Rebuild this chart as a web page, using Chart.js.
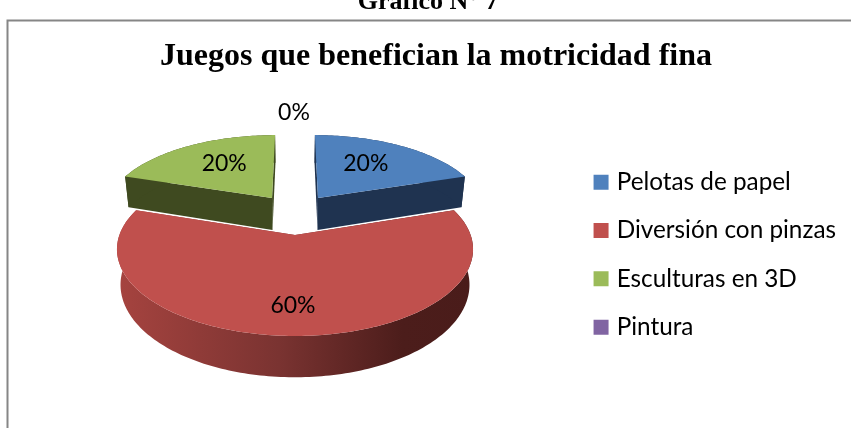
<!DOCTYPE html>
<html><head><meta charset="utf-8">
<style>html,body{margin:0;padding:0;background:#fff;overflow:hidden}#w{width:851px;height:428px;position:relative}</style>
<script src="https://cdn.jsdelivr.net/npm/chart.js@4"></script>
</head><body><div id="w"><canvas id="c" width="851" height="428"></canvas></div>
<script>
const heading = 'Gráfico N° 7';
const chartTitle = 'Juegos que benefician la motricidad fina';
const categories = ['Pelotas de papel', 'Diversión con pinzas', 'Esculturas en 3D', 'Pintura'];
const values = [20, 60, 20, 0];
const topColors = ['#4F81BD', '#C0504D', '#9BBB59', '#8064A2'];
const sideColors = ['#1F3350', null, '#3F4A20', '#3F2F55'];
const exploded = [[0.141, 0.473], [0, 0], [-0.141, 0.473], [0, 0]];
const labelRadius = [0.55, 0.72, 0.55, 1.92];
const labelNudge = [[0, -4], [-2, 2], [0, -4], [-1, 0]];

const CX = 295, CY = 235, A = 175.6, B = 84.3, K = 0.165, H = 34.5, BOTTOM_X = 0.98;
function project(X, Z) {
  const w = 1 + K * Z;
  return { x: CX + A * X / w, y: CY - B * Z / w, w };
}
function base(p) {
  return { x: CX + (p.x - CX) * BOTTOM_X, y: p.y + H / p.w };
}
const pie3d = {
  id: 'pie3d',
  beforeDraw(chart) {
    const c = chart.ctx;
    c.save();
    c.strokeStyle = '#868686';
    c.lineWidth = 2;
    c.beginPath();
    c.moveTo(7.5, 428); c.lineTo(7.5, 20.5); c.lineTo(851, 20.5);
    c.stroke();
    c.fillStyle = '#000';
    c.font = 'bold 26px "Liberation Serif"';
    c.textAlign = 'center';
    c.textBaseline = 'alphabetic';
    c.fillText(heading, 428, 9);
    c.restore();
  },
  beforeDatasetDraw(chart) {
    const c = chart.ctx, arcs = chart.getDatasetMeta(0).data;
    const redSide = c.createLinearGradient(120, 0, 473, 0);
    redSide.addColorStop(0, '#A5433F');
    redSide.addColorStop(0.45, '#7A3331');
    redSide.addColorStop(0.8, '#4C1D1B');
    redSide.addColorStop(1, '#4A1C1A');
    const order = [0, 2, 1];
    c.save();
    for (const i of order) {
      const a = arcs[i], s = a.startAngle + Math.PI / 2, e = a.endAngle + Math.PI / 2;
      if (e - s <= 0) continue;
      const [dx, dz] = exploded[i];
      const apex = project(dx, dz), rim = [];
      const n = Math.ceil((e - s) / 0.02);
      for (let k = 0; k <= n; k++) {
        const t = s + (e - s) * k / n;
        rim.push(project(dx + Math.sin(t), dz + Math.cos(t)));
      }
      const walls = [[apex, rim[0]], [apex, rim[rim.length - 1]], rim];
      c.fillStyle = sideColors[i] || redSide;
      for (const w of walls) {
        c.beginPath();
        w.forEach((p, k) => k ? c.lineTo(p.x, p.y) : c.moveTo(p.x, p.y));
        for (let k = w.length - 1; k >= 0; k--) { const b = base(w[k]); c.lineTo(b.x, b.y); }
        c.closePath(); c.fill();
      }
      c.fillStyle = topColors[i];
      c.beginPath();
      c.moveTo(apex.x, apex.y);
      rim.forEach(p => c.lineTo(p.x, p.y));
      c.closePath(); c.fill();
    }
    c.restore();
    return false;
  },
  afterDatasetsDraw(chart) {
    const c = chart.ctx, arcs = chart.getDatasetMeta(0).data;
    const total = values.reduce((a, b) => a + b, 0);
    c.save();
    c.fillStyle = '#000';
    c.font = '23px Lato';
    c.textAlign = 'center';
    c.textBaseline = 'middle';
    arcs.forEach((a, i) => {
      const m = (a.startAngle + a.endAngle) / 2 + Math.PI / 2;
      const r = labelRadius[i], [dx, dz] = exploded[i];
      const p = project(dx + r * Math.sin(m), dz + r * Math.cos(m));
      c.fillText(Math.round(values[i] / total * 100) + '%', p.x + labelNudge[i][0], p.y + labelNudge[i][1]);
    });
    c.restore();
  }
};
new Chart(document.getElementById('c'), {
  type: 'pie',
  data: { labels: categories, datasets: [{ data: values, backgroundColor: topColors, borderWidth: 0 }] },
  options: {
    responsive: false,
    animation: false,
    layout: { padding: { top: 38, right: 5, bottom: 0, left: 26 } },
    plugins: {
      title: { display: true, text: chartTitle, color: '#000',
        font: { family: '"Liberation Serif"', size: 32, weight: 'bold' }, padding: { top: 0, bottom: 5 } },
      legend: { position: 'right', fullSize: false, labels: { color: '#000', font: { family: 'Lato', size: 24.3 },
        boxWidth: 7, boxHeight: 7, padding: 24,
        generateLabels(chart) {
          return Chart.overrides.pie.plugins.legend.labels.generateLabels(chart).map((it, i) => (
            { ...it, hidden: false, fillStyle: topColors[i], strokeStyle: topColors[i], lineWidth: 8 }));
        } } },
      tooltip: { enabled: false }
    }
  },
  plugins: [pie3d]
});
</script></body></html>
